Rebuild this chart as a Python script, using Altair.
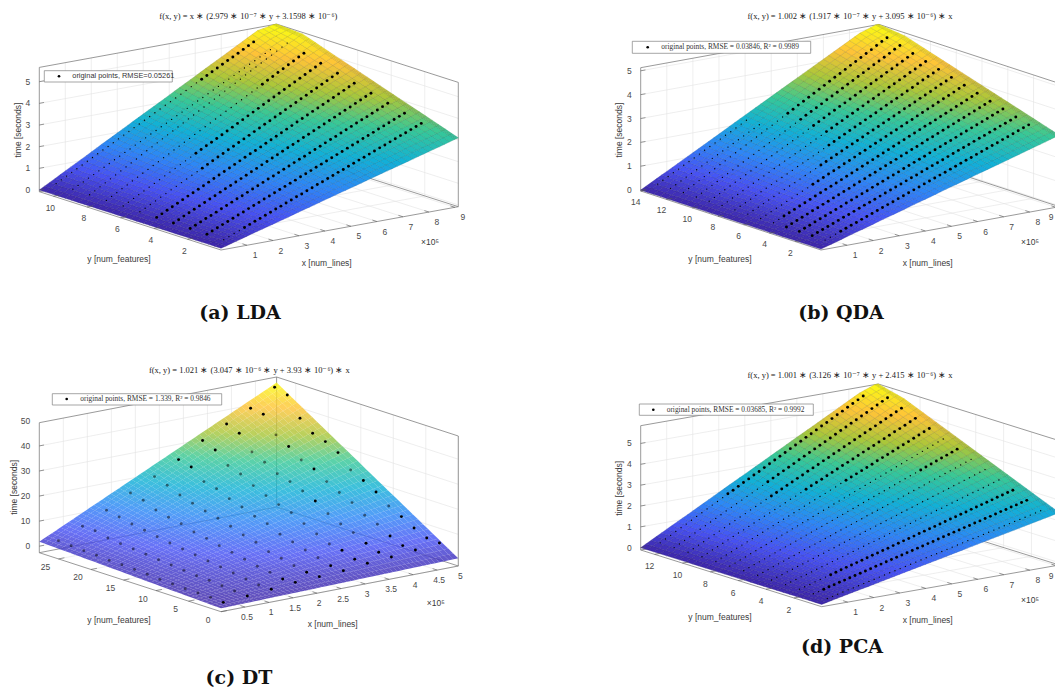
import altair as alt

# ---------- values ----------
SURF_X = [0, .6, 1.2, 1.8, 2.4, 3, 3.6, 4.2, 4.8, 5.4, 6, 6.6, 7.2, 7.8, 8.4, 9, 9.13]
lda_surf_y = [0, 1.55, 3.1, 4.65, 6.2, 7.75, 9.3, 10.84]
lda_surf_z = [  # hundredths of a second
 [0,20,41,61,81,102,122,143,163,183,204,224,244,265,285,306,310],
 [0,23,46,69,92,116,139,162,185,208,231,254,277,300,323,347,352],
 [0,26,52,77,103,129,155,181,207,232,258,284,310,336,362,387,393],
 [0,29,57,86,114,143,171,200,228,257,286,314,343,371,400,428,434],
 [0,31,63,94,125,156,188,219,250,282,313,344,375,407,438,469,476],
 [0,34,68,102,136,170,204,238,272,306,340,374,408,442,476,510,517],
 [0,37,73,110,147,184,220,257,294,331,367,404,441,478,514,551,559],
 [0,39,79,118,158,197,237,276,315,355,394,434,473,513,552,566,566]]
lda_dot_x = [.75,.95,1.15,1.35,1.55,1.75,1.95,2.15,2.35,2.55,2.75,2.95,3.15,3.35,3.55,3.75,3.95,4.15,4.35,4.55,4.75,4.95,5.15,5.35,5.55,5.75,5.95,6.15,6.35,6.55,6.75,6.95,7.15,7.35,7.55,7.75,7.95,8.15,8.35]
lda_dot_y = [1,2,3,4,5,6,7,8,9,10,11]
lda_dot_z = [
 [-2,8,18,27,37,47,57,66,76,86,96,105,115,125,135,144,154,164,174,183,193,203,213,222,232,242,252,261,271,281,291,300,310,320,330,339,349,359,369],
 [-1,9,20,30,40,51,61,71,82,92,102,113,123,133,144,154,164,174,185,195,205,216,226,236,247,257,267,278,288,298,309,319,329,340,350,360,371,381,391],
 [0,11,22,33,43,54,65,76,87,98,108,119,130,141,152,163,173,184,195,206,217,228,238,249,260,271,282,293,303,314,325,336,347,358,368,379,390,401,412],
 [1,12,24,35,47,58,69,81,92,104,115,126,138,149,160,172,183,195,206,218,229,240,252,263,274,286,297,309,320,331,343,354,365,377,388,400,411,423,434],
 [2,14,26,38,50,62,74,85,97,109,121,133,145,157,169,181,193,205,217,228,240,252,264,276,288,300,312,324,336,348,360,371,383,395,407,419,431,443,455],
 [3,15,28,40,53,65,78,90,103,115,128,140,152,165,177,190,202,215,227,240,252,264,277,289,302,314,327,339,352,364,376,389,401,414,426,439,451,464,476],
 [5,18,31,44,57,70,83,96,109,122,135,148,161,174,187,200,213,225,238,251,264,277,290,303,316,329,342,355,368,381,394,407,420,433,446,459,472,485,498],
 [6,20,33,47,60,74,87,101,114,128,141,155,168,182,195,209,222,236,249,263,276,290,303,317,330,344,357,371,384,398,411,425,438,452,465,479,492,506,519],
 [7,21,35,49,63,77,91,105,119,133,148,162,176,190,204,218,232,246,260,274,288,302,316,330,344,358,372,386,400,414,429,443,457,471,485,499,513,527,541],
 [8,21,33,46,58,71,83,96,109,121,134,146,159,171,184,197,209,222,234,247,260,272,285,297,310,322,335,348,360,373,385,398,410,423,436,448,461,473,486],
 [9,22,35,48,60,73,86,99,112,125,137,150,163,176,189,202,214,227,240,253,266,279,291,304,317,330,343,356,368,381,394,407,420,433,445,458,471,484,497]]
lda_big_from = [4,0,0,0,0,12,14,30,99,99,28]

qda_surf_y = [0,2,4,6,8,10,12,14]
qda_surf_z = [
 [0,19,39,58,78,97,117,136,156,175,195,214,233,253,272,292,296],
 [0,22,43,65,87,108,130,152,173,195,217,239,260,282,304,325,330],
 [0,24,48,72,96,120,144,167,191,215,239,263,287,311,335,359,364],
 [0,26,52,78,105,131,157,183,209,235,262,288,314,340,366,392,398],
 [0,28,57,85,114,142,170,199,227,256,284,312,341,369,397,426,432],
 [0,31,61,92,122,153,184,214,245,276,306,337,367,398,429,459,466],
 [0,33,66,99,131,164,197,230,263,296,329,361,394,427,460,493,500],
 [0,35,70,105,140,175,211,246,281,316,351,386,421,456,491,513,513]]
qda_dot_x = [.65,.85,1.05,1.25,1.45,1.65,1.85,2.05,2.25,2.45,2.65,2.85,3.05,3.25,3.45,3.65,3.85,4.05,4.25,4.45,4.65,4.85,5.05,5.25,5.45,5.65,5.85,6.05,6.25,6.45,6.65,6.85,7.05,7.25,7.45,7.65,7.85,8.05,8.25,8.45]
qda_dot_y = [1,2,3,4,5,6,7,8,9,10,11,12,13,14]
qda_dot_z = [
 [7,15,24,32,41,49,57,66,74,83,91,100,108,116,125,133,142,150,158,167,175,184,192,200,209,217,226,234,242,251,259,268,276,284,293,301,310,318,327,335],
 [8,17,26,34,43,52,61,69,78,87,96,104,113,122,131,140,148,157,166,175,183,192,201,210,218,227,236,245,254,262,271,280,289,297,306,315,324,332,341,350],
 [8,17,26,36,45,54,63,72,81,91,100,109,118,127,137,146,155,164,173,182,192,201,210,219,228,238,247,256,265,274,283,293,302,311,320,329,338,348,357,366],
 [9,19,28,38,47,57,66,76,85,95,104,114,123,133,143,152,162,171,181,190,200,209,219,228,238,247,257,267,276,286,295,305,314,324,333,343,352,362,371,381],
 [9,19,29,39,49,59,69,79,89,99,109,118,128,138,148,158,168,178,188,198,208,218,228,238,248,258,268,278,288,298,307,317,327,337,347,357,367,377,387,397],
 [9,19,30,40,50,61,71,82,92,102,113,123,133,144,154,164,175,185,195,206,216,227,237,247,258,268,278,289,299,309,320,330,341,351,361,372,382,392,403,413],
 [10,21,31,42,53,64,74,85,96,106,117,128,139,149,160,171,182,192,203,214,224,235,246,257,267,278,289,299,310,321,332,342,353,364,374,385,396,407,417,428],
 [10,21,32,43,55,66,77,88,99,110,121,132,144,155,166,177,188,199,210,221,233,244,255,266,277,288,299,310,322,333,344,355,366,377,388,400,411,422,433,444],
 [11,22,34,45,57,68,80,91,103,114,126,137,149,160,172,183,195,206,218,229,241,252,264,275,287,298,310,321,333,344,356,367,379,390,402,413,425,436,448,459],
 [11,23,35,47,59,71,82,94,106,118,130,142,154,166,178,189,201,213,225,237,249,261,273,285,297,309,320,332,344,356,368,380,392,404,416,427,439,451,463,475],
 [11,23,36,48,60,73,85,97,109,122,134,146,159,171,183,196,208,220,233,245,257,270,282,294,306,319,331,343,356,368,380,393,405,417,430,442,454,466,479,491],
 [12,25,37,50,63,75,88,101,113,126,139,151,164,177,189,202,215,227,240,253,265,278,291,303,316,329,342,354,367,380,392,405,418,430,443,456,468,481,494,506],
 [12,23,35,47,59,70,82,94,106,117,129,141,152,164,176,188,199,211],
 [12,24,36,48,59,71,83,94,106,118,130,141,153,165,176,188,200,212]]
qda_big_from = [3,0,0,0,2,10,14,18,20,20,20,20,99,99]

pca_surf_y = [0,1.86,3.71,5.57,7.43,9.29,11.14,13]
pca_surf_z = [
 [0,16,32,47,63,79,95,110,126,142,158,174,189,205,221,237,240],
 [0,19,38,58,77,96,115,134,154,173,192,211,230,249,269,288,292],
 [0,23,45,68,90,113,136,158,181,203,226,249,271,294,317,339,344],
 [0,26,52,78,104,130,156,182,208,234,260,286,312,338,364,390,396],
 [0,30,59,89,118,148,177,207,236,266,295,325,354,384,413,443,449],
 [0,33,66,99,132,165,198,230,263,296,329,362,395,428,461,494,501],
 [0,36,73,109,145,182,218,254,291,327,363,400,436,472,509,545,553],
 [0,40,80,119,159,199,239,278,318,358,398,437,477,517,557,585,585]]
pca_dot_x = [.75,.95,1.15,1.35,1.55,1.75,1.95,2.15,2.35,2.55,2.75,2.95,3.15,3.35,3.55,3.75,3.95,4.15,4.35,4.55,4.75,4.95,5.15,5.35,5.55,5.75,5.95,6.15,6.35,6.55,6.75,6.95,7.15,7.35,7.55,7.75,7.95,8.15,8.35,8.55,8.75,8.95]
pca_dot_y = [1,2,3,4,5,6,7,8,9,10,11,12,13]
pca_dot_z = [
 [-9,-3,3,9,15,20,26,32,38,44,50,56,62,67,73,79,85,91,97,103,109,114,120,126,132,138,144,150,156,161,167,173,179,185,191,197,203,208,214,220,226,232],
 [-7,-1,6,13,19,26,32,39,45,52,58,65,72,78,85,91,98,104,111,117,124,130,137,143,150,157,163,170,176,183,189,196,202,209,215,222,229,235,242,248,255,261],
 [-6,1,8,16,23,30,37,44,52,59,66,73,80,88,95,102,109,116,124,131,138,145,152,160,167,174,181,188,196,203,210,217,224,232,239,246,253,260,268,275,282,289],
 [-5,3,11,19,26,34,42,50,58,66,74,81,89,97,105,113,121,128,136,144,152,160,168,176,183,191,199,207,215,223,230,238,246,254,262,270,278,285,293,301,309,317],
 [-4,5,13,22,30,39,47,56,64,73,81,90,98,107,116,124,133,141,150,158,167,175,184,192,201,210,218,227,235,244,252,261,269,278,286,295,303,312,320,329,338,346],
 [-2,7,16,26,35,44,53,62,71,81,90,99,108,117,126,136,145,154,163,172,181,191,200,209,218,227,236,246,255,264,273,282,291,301,310,319,328,337,346,356,365,374],
 [-1,9,19,28,38,48,58,68,78,87,97,107,117,127,137,146,156,166,176,186,196,205,215,225,235,245,255,264,274,284,294,304,314,323,333,343,353,363,373,382,392,402],
 [0,10,21,31,42,52,63,73,84,94,105,115,126,136,147,157,168,178,189,199,210,220,231,241,252,262,273,283,294,304,315,325,336,346,357,367,378,388,399,409,420,430],
 [2,13,24,35,47,58,69,80,91,102,114,125,136,147,158,169,180,192,203,214,225,236,247,258,270,281,292,303,314,325,336,348,359,370,381,392,403,414,426,437,448,459],
 [3,15,27,38,50,62,74,86,97,109,121,133,145,156,168,180,192,204,215,227,239,251,263,274,286,298,310,322,333,345,357,369,381,392,404,416,428,440,451,463,475,487],
 [4,16,29,41,54,66,79,91,104,116,129,141,154,166,178,191,203,216,228,241,253,266,278,291,303,315,328,340,353,365,378,390,403,415,428,440,452,465,477,490,502,515],
 [5,18,31,44,58,71,84,97,110,123,137,150,163,176,189,202,215,229,242,255,268,281,294,307,321,334,347,360,373,386,399,413,426,439,452,465,478,491,505,518,531,544],
 [7,21,34,48,62,75,89,103,116,130,144,157,171,185,198,212,226,239,253,266,280,294,308,321,335,349,362,376,390,403,417,431,444,458,472,485,499,513,526,540]]
pca_big_from = [99,2,6,99,99,99,34,99,25,20,16,18,13]

dt_surf_x = [0,.35,.7,1.05,1.4,1.75,2.1,2.45,2.8,3.15,3.5,3.85,4.2,4.55,4.94]
dt_surf_y = [0,3.1,6.2,9.3,12.4,15.5,18.6,21.7,24.8,27.95]
dt_surf_z = [
 [-1.27,-1.15,-1.03,-.90,-.78,-.66,-.54,-.41,-.29,-.17,-.05,.08,.20,.32,.46],
 [-.93,-.47,0,.46,.93,1.39,1.86,2.32,2.79,3.25,3.71,4.18,4.64,5.11,5.63],
 [-.59,.22,1.02,1.83,2.63,3.44,4.25,5.05,5.86,6.66,7.47,8.28,9.08,9.89,10.79],
 [-.25,.90,2.05,3.19,4.34,5.49,6.64,7.79,8.93,10.08,11.23,12.38,13.53,14.67,15.95],
 [.09,1.58,3.07,4.56,6.05,7.54,9.03,10.52,12.01,13.50,14.99,16.48,17.97,19.46,21.11],
 [.44,2.27,4.10,5.93,7.76,9.59,11.43,13.26,15.09,16.92,18.75,20.58,22.41,24.25,26.29],
 [.78,2.95,5.13,7.30,9.47,11.65,13.82,15.99,18.17,20.34,22.51,24.68,26.86,29.03,31.45],
 [1.12,3.64,6.15,8.67,11.18,13.70,16.21,18.73,21.24,23.76,26.27,28.79,31.30,33.82,36.62],
 [1.46,4.32,7.17,10.03,12.89,15.74,18.60,21.46,24.31,27.17,30.03,32.88,35.74,38.60,41.78],
 [1.80,5.00,8.21,11.41,14.62,17.82,21.02,24.23,27.43,30.64,33.84,37.04,40.25,43.45,47.02]]
dt_dot_x = [.25,.75,1.25,1.75,2.25,2.75,3.25,3.75,4.25,4.75]
dt_dot_y = [1.5,3.45,5.4,7.35,9.3,11.25,13.2,15.15,17.1,19.05,21,22.95,24.9,26.85]
dt_dot_z = [  # one row per x value
 [-1.06,-.70,-.62,-.53,-.32,-.09,.27,.61,.84,.92,1.28,1.50,1.85,2.21],
 [-.38,-.02,.46,.95,1.16,1.66,2.15,2.63,3.12,3.6,4.09,4.71,5.99,6.08],
 [.45,.54,1.28,2.04,2.79,3.54,4.30,5.05,5.80,6.68,7.57,8.46,9.61,10.63],
 [1.39,1.08,2.09,2.85,4.0,5.15,6.18,7.45,8.34,10.02,10.91,12.2,14.41,15.7],
 [1.81,1.91,2.92,4.21,5.22,7.31,8.6,10.41,11.96,13.24,14.66,16.35,18.56,20.38],
 [2.36,2.72,4.26,5.68,7.23,8.65,11.27,12.55,14.63,16.31,18.66,19.82,24.02,25.31],
 [3.45,3.41,5.35,6.24,8.58,11.07,13.82,15.37,17.32,19.66,22.68,24.37,28.97,31.06],
 [4.13,4.35,6.3,8.92,10.72,13.21,16.63,18.97,21.06,22.6,25.49,27.97,33.77,35.86],
 [5.09,5.18,7.39,10.41,12.35,15.76,18.12,20.86,24.27,26.22,29.9,32.92,39.51,40.27],
 [6.03,6.39,8.73,11.62,14.22,18.17,21.06,23.66,28.94,31.68,33.37,37.72,45.38,46.8]]
dt_dot_above = [[0],[0],[0],[0,1],[0,1],[0,1,12,13],[0,1,2,12,13],[0,1,2,6,12,13],[0,1,2,8,10,12,13],[0,1,2,3,5,6,8,9,10,11,12,13]]

titles = ["f(x, y) = x ∗ (2.979 ∗ 10⁻⁷ ∗ y + 3.1598 ∗ 10⁻⁶)",
          "f(x, y) = 1.002 ∗ (1.917 ∗ 10⁻⁷ ∗ y + 3.095 ∗ 10⁻⁶) ∗ x",
          "f(x, y) = 1.021 ∗ (3.047 ∗ 10⁻⁶ ∗ y + 3.93 ∗ 10⁻⁶) ∗ x",
          "f(x, y) = 1.001 ∗ (3.126 ∗ 10⁻⁷ ∗ y + 2.415 ∗ 10⁻⁶) ∗ x"]
legends = ["original points, RMSE=0.05261",
           "original points, RMSE = 0.03846, R² = 0.9989",
           "original points, RMSE = 1.339, R² = 0.9846",
           "original points, RMSE = 0.03685, R² = 0.9992"]
captions = ["(a) LDA", "(b) QDA", "(c) DT", "(d) PCA"]

# ---------- layout of the four 3-D boxes (image pixels) ----------
PARULA = [(.2422,.1504,.6603),(.2810,.3228,.9579),(.1786,.5289,.9682),(.0689,.6948,.8394),
          (.2161,.7843,.5923),(.6720,.7793,.2227),(.9970,.7659,.2199),(.9769,.9839,.0805)]
panels = [
 dict(O=(221,250),R=(458.3,206.7),L=(39.3,191.7),H=124.3,xlim=(0,9.13),ylim=(0,10.84),zlim=(-.08,5.66),
      xt=[1,2,3,4,5,6,7,8,9],yt=[2,4,6,8,10],zt=[0,1,2,3,4,5],
      sx=SURF_X,sy=lda_surf_y,sz=[[v/100 for v in r] for r in lda_surf_z],
      dx=lda_dot_x,dy=lda_dot_y,dz=lda_dot_z,big=lda_big_from,
      xoff=(8,10),yoff=(-3,11.5),title=(248.3,16),ylab=(119,259.3),xlab=(326.7,262.7),tlab=(18.3,130),
      mul=(430,241.7),lbox=(44.3,70.7,172.3,82),ldot=(59,76.3),ltx=72.3,lfont="Liberation Sans",cap=(240,313)),
 dict(O=(821,250),R=(1059.3,206.7),L=(640.7,191),H=123.3,xlim=(0,9.13),ylim=(0,14),zlim=(-.04,5.13),
      xt=[1,2,3,4,5,6,7,8,9],yt=[2,4,6,8,10,12,14],zt=[0,1,2,3,4,5],
      sx=SURF_X,sy=qda_surf_y,sz=[[v/100 for v in r] for r in qda_surf_z],
      dx=qda_dot_x,dy=qda_dot_y,dz=qda_dot_z,big=qda_big_from,
      xoff=(8,10),yoff=(-5,11),title=(850,16),ylab=(720,259.3),xlab=(927.7,262.7),tlab=(619.3,130),
      mul=(1030,241.7),lbox=(632.3,41.3,810.7,53.3),ldot=(647.7,47.3),ltx=661.3,lfont="Liberation Serif",cap=(841,313)),
 dict(O=(221,611.7),R=(458.3,566),L=(39.3,552.7),H=130,xlim=(0,4.94),ylim=(0,27.95),zlim=(-2.6,49.26),
      xt=[.5,1,1.5,2,2.5,3,3.5,4,4.5,5],yt=[0,5,10,15,20,25],zt=[0,10,20,30,40,50],
      sx=dt_surf_x,sy=dt_surf_y,sz=dt_surf_z,
      dx=None,dy=None,dz=None,big=None,
      xoff=(2,10),yoff=(-13,8),title=(249.3,369.7),ylab=(119,620.3),xlab=(332.7,624),tlab=(14,487.3),
      mul=(435.7,602.7),lbox=(52.3,393.7,221.7,405),ldot=(66.7,399),ltx=80.3,lfont="Liberation Serif",cap=(239,678)),
 dict(O=(821.7,606.7),R=(1059.3,565),L=(640.7,550),H=124.3,xlim=(0,9.13),ylim=(0,13),zlim=(-.11,5.85),
      xt=[1,2,3,4,5,6,7,8,9],yt=[2,4,6,8,10,12],zt=[0,1,2,3,4,5],
      sx=SURF_X,sy=pca_surf_y,sz=[[v/100 for v in r] for r in pca_surf_z],
      dx=pca_dot_x,dy=pca_dot_y,dz=pca_dot_z,big=pca_big_from,
      xoff=(8,10),yoff=(-5,12),title=(850,374.7),ylab=(720,617.3),xlab=(927.7,620.3),tlab=(619.3,488.3),
      mul=(1030,600),lbox=(639.3,404,813.3,415.3),ldot=(653.3,409.7),ltx=666.7,lfont="Liberation Serif",cap=(842,647)),
]
W, H_PAGE = 1047, 681
OFF = 8
SHADE_X, SHADE_Y = 3, 4   # renderer's shading cells per table cell
BIG, SMALL = 8.5, 1.8

def mix(t):
    t = max(0.0, min(1.0, t)) * (len(PARULA) - 1)
    i = min(int(t), len(PARULA) - 2)
    f = t - i
    return [PARULA[i][k] + f * (PARULA[i + 1][k] - PARULA[i][k]) for k in range(3)]

def hexa(c, gain=1.0):
    return "#%02x%02x%02x" % tuple(int(round(255 * v * gain)) for v in c)

def project(p, x, y, z):
    ox, oy = p["O"]
    u = (x - p["xlim"][0]) / (p["xlim"][1] - p["xlim"][0])
    v = (y - p["ylim"][0]) / (p["ylim"][1] - p["ylim"][0])
    w = (z - p["zlim"][0]) / (p["zlim"][1] - p["zlim"][0])
    return (round(ox + u * (p["R"][0] - ox) + v * (p["L"][0] - ox) - OFF, 2),
            round(oy + u * (p["R"][1] - oy) + v * (p["L"][1] - oy) - w * p["H"] - OFF, 2))

def poly(points, **props):
    ring = [list(q) for q in points] + [list(points[0])]
    return {"type": "Feature", "properties": props, "geometry": {"type": "Polygon", "coordinates": [ring]}}

grid, box, ticks, quads, quads_alpha, under, dots, legend_dots, boxes, texts = [], [], [], [], [], [], [], [], [], []
sid = [0]
def seg(store, a, b):
    sid[0] += 1
    store.append({"lon": a[0], "lat": a[1], "id": sid[0], "k": 0})
    store.append({"lon": b[0], "lat": b[1], "id": sid[0], "k": 1})

for n, p in enumerate(panels):
    x0, x1 = p["xlim"]; y0, y1 = p["ylim"]; z0, z1 = p["zlim"]
    P = lambda x, y, z: project(p, x, y, z)
    for v in p["xt"]:
        if v <= x1:
            seg(grid, P(v, y1, z0), P(v, y1, z1)); seg(grid, P(v, y0, z0), P(v, y1, z0))
            seg(ticks, P(v, y0, z0), P(v, y0 + .025 * (y1 - y0), z0))
        q = P(min(v, x1), y0, z0)
        texts.append(dict(lon=min(q[0] + p["xoff"][0], W - 4), lat=q[1] + p["xoff"][1], t=("%g" % v), s="tick"))
    for v in p["yt"]:
        if v <= y1:
            seg(grid, P(x1, v, z0), P(x1, v, z1)); seg(grid, P(x0, v, z0), P(x1, v, z0))
            seg(ticks, P(x0, v, z0), P(x0 + .025 * (x1 - x0), v, z0))
        q = P(x0, v, z0)
        texts.append(dict(lon=q[0] + p["yoff"][0], lat=q[1] + p["yoff"][1], t=("%g" % v), s="tick"))
    for v in p["zt"]:
        if v <= z1:
            seg(grid, P(x0, y1, v), P(x1, y1, v)); seg(grid, P(x1, y0, v), P(x1, y1, v))
            seg(ticks, P(x0, y1, v), P(x0 + .02 * (x1 - x0), y1, v))
        q = P(x0, y1, v)
        texts.append(dict(lon=q[0] - 9, lat=q[1], t=("%g" % v), s="ztick"))
    for a, b in [((x0,y0,z0),(x1,y0,z0)),((x0,y0,z0),(x0,y1,z0)),((x0,y1,z0),(x0,y1,z1)),((x1,y0,z0),(x1,y0,z1)),
                 ((x0,y1,z1),(x1,y1,z1)),((x1,y0,z1),(x1,y1,z1)),((x1,y1,z0),(x1,y1,z1)),((x0,y1,z0),(x1,y1,z0)),((x1,y0,z0),(x1,y1,z0))]:
        seg(box, P(*a), P(*b))
    # surface: each table cell is shaded through a few small cells, as interpolated shading does
    sx, sy, sz = p["sx"], p["sy"], p["sz"]
    zl = min(min(r) for r in sz); zh = max(max(r) for r in sz)
    nx, ny = (4, 4) if n == 2 else (SHADE_X, SHADE_Y)
    def S(i, j, a, b):
        fx, fy = a / nx, b / ny
        zz = ((1-fx)*(1-fy)*sz[j][i] + fx*(1-fy)*sz[j][i+1] + (1-fx)*fy*sz[j+1][i] + fx*fy*sz[j+1][i+1])
        return sx[i] + fx*(sx[i+1]-sx[i]), sy[j] + fy*(sy[j+1]-sy[j]), zz
    for j in range(len(sy) - 1):
        for i in range(len(sx) - 1):
            for b in range(ny):
                for a in range(nx):
                    c = [S(i, j, a, b), S(i, j, a+1, b), S(i, j, a+1, b+1), S(i, j, a, b+1)]
                    m = sum(q[2] for q in c) / 4
                    col = mix((m - zl) / (zh - zl))
                    if n == 2:
                        quads_alpha.append(poly([P(*q) for q in c], fill=hexa(col)))
                    else:
                        quads.append(poly([P(*q) for q in c], fill=hexa(col), edge=hexa(col, .75)))
    # points
    if n == 2:
        for i, xv in enumerate(dt_dot_x):
            for j, yv in enumerate(dt_dot_y):
                q = P(xv, yv, dt_dot_z[i][j])
                rec = dict(lon=q[0], lat=q[1], s=BIG)
                (dots if j in dt_dot_above[i] else under).append(rec)
    else:
        for r, yv in enumerate(p["dy"]):
            for i, zv in enumerate(p["dz"][r]):
                q = P(p["dx"][i], yv, zv / 100)
                dots.append(dict(lon=q[0], lat=q[1], s=BIG if i >= p["big"][r] else SMALL))
    # annotation
    a, b, c, d = p["lbox"]
    boxes.append(poly([(a - OFF, b - OFF), (c - OFF, b - OFF), (c - OFF, d - OFF), (a - OFF, d - OFF)], fill="#ffffff"))
    legend_dots.append(dict(lon=p["ldot"][0] - OFF, lat=p["ldot"][1] - OFF, s=7))
    def T(pos, t, s):
        texts.append(dict(lon=pos[0] - OFF, lat=pos[1] - OFF, t=t, s=s))
    T(p["title"], titles[n], "title")
    T(p["ylab"], "y [num_features]", "axis")
    T(p["xlab"], "x [num_lines]", "axis")
    T(p["tlab"], "time [seconds]", "time")
    T(p["mul"], "×10⁵", "axis")
    T((p["ltx"], p["ldot"][1]), legends[n], "leg_sans" if n == 0 else "leg_serif")
    T(p["cap"], captions[n], "cap")

proj = dict(type="identity", scale=1, translate=[0, 0])

def lines(rows, color, width):
    return alt.Chart(alt.Data(values=rows)).mark_line(color=color, strokeWidth=width).encode(
        longitude="lon:Q", latitude="lat:Q", detail="id:N", order="k:Q").project(**proj)

def circles(rows, opacity=1):
    return alt.Chart(alt.Data(values=rows)).mark_circle(color="#000000", opacity=opacity).encode(
        longitude="lon:Q", latitude="lat:Q", size=alt.Size("s:Q", scale=None)).project(**proj)

def text(style, **mk):
    rows = [r for r in texts if r["s"] == style]
    return alt.Chart(alt.Data(values=rows)).mark_text(**mk).encode(
        longitude="lon:Q", latitude="lat:Q", text="t:N").project(**proj)

surface = alt.Chart(alt.Data(values=quads)).mark_geoshape(strokeWidth=.35).encode(
    fill=alt.Fill("properties.fill:N", scale=None), stroke=alt.Stroke("properties.edge:N", scale=None)).project(**proj)
surface_alpha = alt.Chart(alt.Data(values=quads_alpha)).mark_geoshape(fillOpacity=.82, strokeWidth=0).encode(
    fill=alt.Fill("properties.fill:N", scale=None)).project(**proj)
frame = alt.Chart(alt.Data(values=boxes)).mark_geoshape(fill="#ffffff", stroke="#7f7f7f", strokeWidth=.7).project(**proj)

layers = [
    lines(grid, "#e3e3e3", .6),
    lines(box, "#808080", .8),
    surface,
    surface_alpha,
    circles(under, opacity=.5),
    circles(dots),
    lines(ticks, "#555555", .6),
    frame,
    circles(legend_dots),
    text("tick", font="Liberation Sans", fontSize=8.5, color="#4a4a4a", align="center", baseline="middle"),
    text("ztick", font="Liberation Sans", fontSize=8.5, color="#4a4a4a", align="right", baseline="middle"),
    text("axis", font="Liberation Sans", fontSize=8.5, color="#3a3a3a", align="center", baseline="middle"),
    text("time", font="Liberation Sans", fontSize=8.5, color="#3a3a3a", align="center", baseline="middle", angle=270),
    text("title", font="Liberation Serif", fontSize=8.5, color="#222222", align="center", baseline="middle"),
    text("leg_sans", font="Liberation Sans", fontSize=7.4, color="#333333", align="left", baseline="middle"),
    text("leg_serif", font="Liberation Serif", fontSize=7.4, color="#333333", align="left", baseline="middle"),
    text("cap", font="DejaVu Serif", fontSize=19, fontWeight="bold", color="#111111", align="center", baseline="middle"),
]

chart = alt.layer(*layers).properties(width=W, height=H_PAGE, padding=0,
    autosize=alt.AutoSizeParams(type="none")).configure_view(stroke=None)
chart.save("out.html", embed_options={"renderer": "svg", "actions": False})
